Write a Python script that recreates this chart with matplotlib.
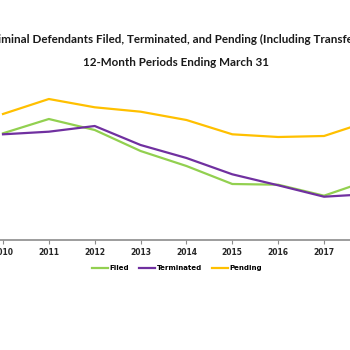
import matplotlib.pyplot as plt

# Data (defendants, 12-month periods ending March 31)
years = [2010, 2011, 2012, 2013, 2014, 2015, 2016, 2017, 2018]
filed = [94680, 99325, 95750, 88925, 84050, 78200, 77970, 74400, 79500]
terminated = [94350, 95200, 97050, 90875, 86650, 81350, 77780, 74070, 74950]
pending = [100950, 105825, 103130, 101700, 99000, 94350, 93475, 93800, 98675]

title_lines = ["Criminal Defendants Filed, Terminated, and Pending (Including Transfers)",
               "12-Month Periods Ending March 31"]

fig = plt.figure(figsize=(3.5, 3.5), dpi=100)
fig.patch.set_facecolor("white")

# axes wider than the figure: the reference is cropped on both sides
px = 45.86  # pixels per year
left_px = 3 - 0.5 * px
ax = fig.add_axes([left_px / 350, 110 / 350, 9 * px / 350, 160 / 350])

ax.plot(years, filed, color="#92D050", lw=1.6, label="Filed")
ax.plot(years, terminated, color="#7030A0", lw=1.6, label="Terminated")
ax.plot(years, pending, color="#FFC000", lw=1.6, label="Pending")

ax.set_xlim(2009.5, 2018.5)
ax.set_ylim(60000, 112000)
ax.set_xticks(years)
ax.set_xticklabels([str(y) for y in years], fontsize=5.5, fontweight="bold", color="#262626")
ax.set_yticks([])
for s in ["top", "right", "left"]:
    ax.spines[s].set_visible(False)
ax.spines["bottom"].set_color("#8C8C8C")
ax.spines["bottom"].set_linewidth(1.2)
ax.tick_params(axis="x", length=3, width=0.8, color="#8C8C8C", pad=3)

fig.text(176 / 350, 1 - 39 / 350, title_lines[0], ha="center", va="center",
         fontsize=8.4, fontweight="bold", color="#1a1a1a", family="Lato")
fig.text(176 / 350, 1 - 63 / 350, title_lines[1], ha="center", va="center",
         fontsize=8.4, fontweight="bold", color="#1a1a1a", family="Lato")

fig.legend(loc="center", bbox_to_anchor=(177 / 350, 1 - 268 / 350), ncol=3,
           frameon=False, prop={"weight": "bold", "size": 5},
           handlelength=2.3, handletextpad=0.2, columnspacing=1.4)

fig.savefig("out.png", dpi=100)
